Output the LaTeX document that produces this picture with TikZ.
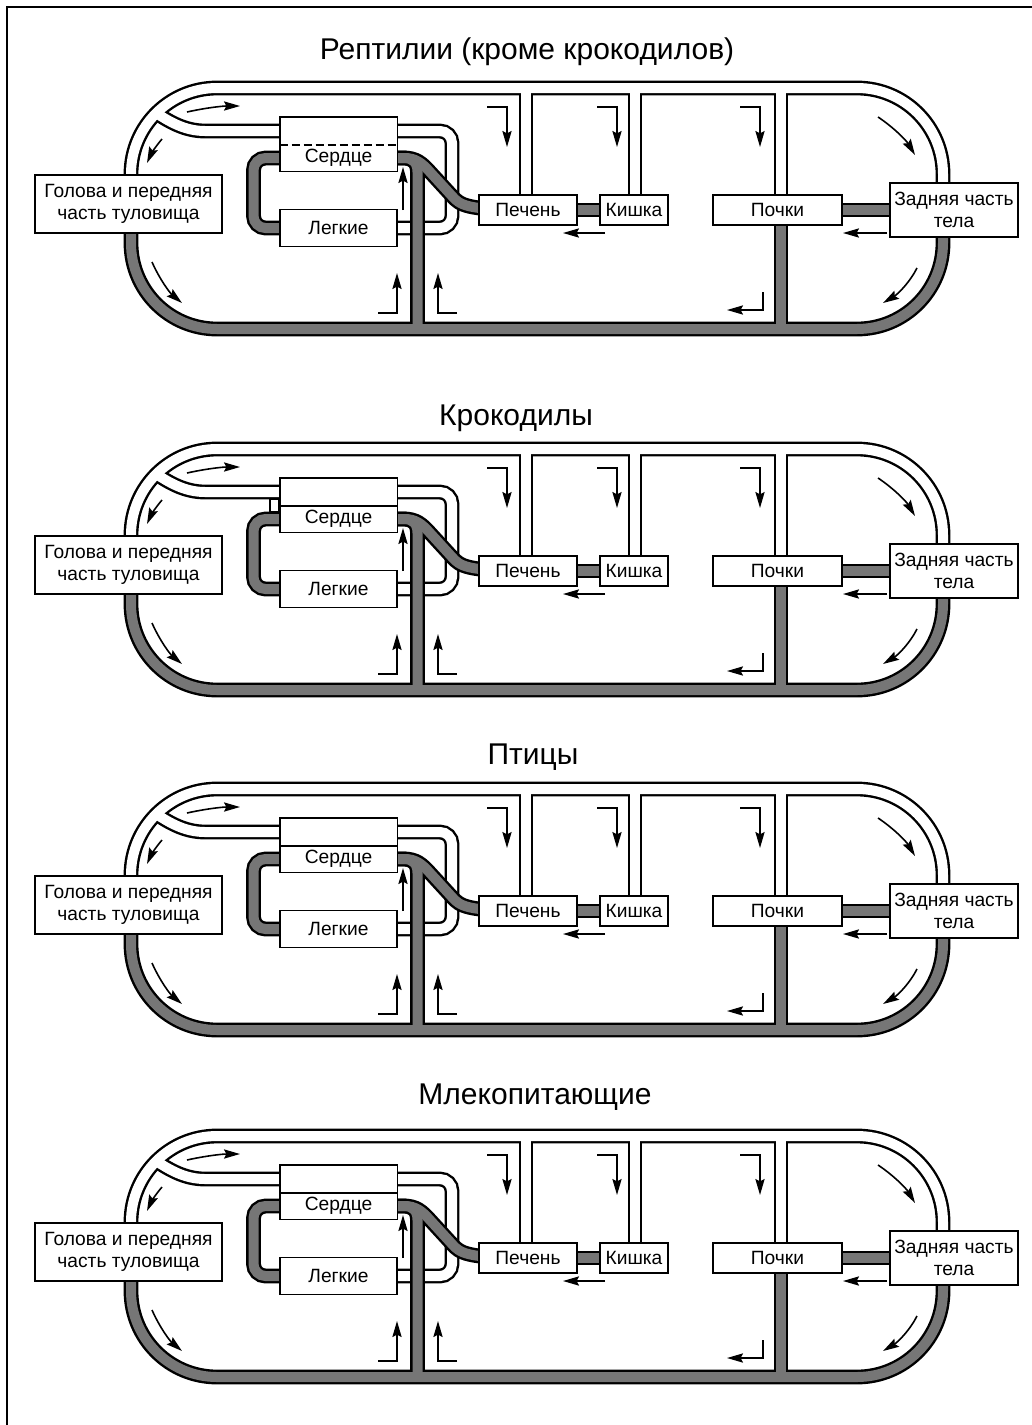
\documentclass[tikz,border=0pt]{standalone}
\usepackage{fontspec}
\setmainfont{Liberation Sans}
\usepackage{tikz}
\usetikzlibrary{arrows.meta, backgrounds}

\definecolor{venous}{RGB}{118,118,118}

% oxygenated vessels of one panel (#1 = prefix, #2 = style)
\newcommand\arterynet[2]{%
  \draw[#2, rounded corners=43pt] (131,122) |- (943,6) -- (943,128);
  \draw[#2] (526,6) -- (526,120);
  \draw[#2] (635,6) -- (635,120);
  \draw[#2] (781,6) -- (781,128);
  \draw[#2] (#1lv.center) -- (205,49) .. controls (185,49) and (170,40) .. (156,31);
  \draw[#2, rounded corners=6pt] (#1lv.center) -| (452,146) -- (#1lung.center);
}

% deoxygenated vessels of one panel
\newcommand\veinnet[2]{%
  \draw[#2, rounded corners=43pt] (131,122) |- (943,247) -- (943,128);
  \draw[#2] (781,128) -- (781,247);
  \draw[#2, rounded corners=6pt] (#1heart.center) -| (253.5,146) -- (#1lung.center);
  \draw[#2] (#1heart.center) -- (404,76) .. controls (413,76) and (417.5,81) .. (417.5,90) -- (417.5,247);
  \draw[#2] (#1heart.center) -- (404,76) .. controls (416,76) and (422,81) .. (430,90)
    -- (452,114) .. controls (460,123) and (466,128) .. (#1liv.center);
  \draw[#2] (#1liv) -- (#1gut);
  \draw[#2] (#1kid) -- (#1rear);
}

% one circulation scheme: prefix, y offset, septum style, extra
\newcommand\circpanel[4]{%
\begin{scope}[shift={(0,#2)}]
  \node[organ, minimum width=93.5pt, minimum height=29pt] (#1head) at (128.5,122) {Голова и передняя\\часть туловища};
  \node[chamber, minimum height=14pt] (#1lv) at (338.5,49) {};
  \node[chamber, minimum height=13pt] (#1heart) at (338.5,76) {Сердце};
  \draw[line width=0.9pt] (#1lv.north west) rectangle (#1heart.south east);
  \draw[line width=0.9pt, #3] (#1heart.north west) -- (#1heart.north east);
  \node[organ, minimum width=58.5pt, minimum height=18.5pt] (#1lung) at (338.5,146) {Легкие};
  \node[organ, minimum width=49pt, minimum height=15pt] (#1liv) at (528,128) {Печень};
  \node[organ, minimum width=34pt, minimum height=15pt] (#1gut) at (634,128) {Кишка};
  \node[organ, minimum width=64.5pt, minimum height=15pt] (#1kid) at (777.5,128) {Почки};
  \node[organ, minimum width=64pt, minimum height=27pt] (#1rear) at (954,128) {Задняя часть\\тела};
  #4
  \begin{scope}[on background layer]
    \arterynet{#1}{wall}
    \arterynet{#1}{oxy}
    \veinnet{#1}{wall}
    \veinnet{#1}{deoxy}
  \end{scope}
  % flow arrows
  \draw[flow] (187,30) .. controls (205,26) and (222,24) .. (240,24);
  \draw[flow] (162,57) .. controls (156,64) and (151,72) .. (147,81);
  \draw[flow] (152,180) .. controls (160,198) and (170,211) .. (182,221);
  \draw[flow] (878,35) .. controls (893,45) and (906,58) .. (915,73);
  \draw[flow] (917,186) .. controls (910,200) and (898,212) .. (883,221);
  \draw[flow] (487,25) -- (507,25) -- (507,65);
  \draw[flow] (597,25) -- (617,25) -- (617,65);
  \draw[flow] (740,25) -- (760,25) -- (760,65);
  \draw[flow] (763,210) -- (763,228) -- (727,228);
  \draw[flow] (378,231) -- (397,231) -- (397,191);
  \draw[flow] (457,231) -- (438,231) -- (438,191);
  \draw[flow] (403,128) -- (403,85);
  \draw[flow] (605,151) -- (563,151);
  \draw[flow] (887,151) -- (843,151);
\end{scope}}

\begin{document}
\begin{tikzpicture}[
  x=0.5pt, y=-0.5pt,
  wall/.style={draw=black, line width=7.4pt},
  oxy/.style={draw=white, line width=5pt},
  deoxy/.style={draw=venous, line width=5pt},
  organ/.style={
    draw, fill=white, line width=0.9pt, inner sep=0pt, align=center,
    font=\fontsize{9.6}{11}\selectfont
  },
  chamber/.style={
    fill=white, inner sep=0pt, minimum width=58.5pt,
    font=\fontsize{9.6}{11}\selectfont
  },
  heading/.style={font=\fontsize{15}{18}\selectfont},
  flow/.style={line width=0.8pt, -{Stealth[length=8pt, width=4.6pt, inset=1.2pt]}}
]
\useasboundingbox (0,0) rectangle (1032,1425);
\draw[line width=0.8pt] (7,1425) -- (7,7) -- (1032,7);

\node[heading] (t1) at (527,52) {Рептилии (кроме крокодилов)};
\node[heading] (t2) at (516,418) {Крокодилы};
\node[heading] (t3) at (533,757) {Птицы};
\node[heading] (t4) at (535,1097) {Млекопитающие};

\circpanel{p1}{82}{dash pattern=on 4pt off 2pt}{}
\circpanel{p2}{443}{solid}{%
  \node[draw, fill=white, line width=0.8pt, inner sep=0pt,
    minimum width=4.5pt, minimum height=6.5pt] (p2tab) at (274.5,62.5) {};}
\circpanel{p3}{783}{solid}{}
\circpanel{p4}{1130}{solid}{}
\end{tikzpicture}
\end{document}
